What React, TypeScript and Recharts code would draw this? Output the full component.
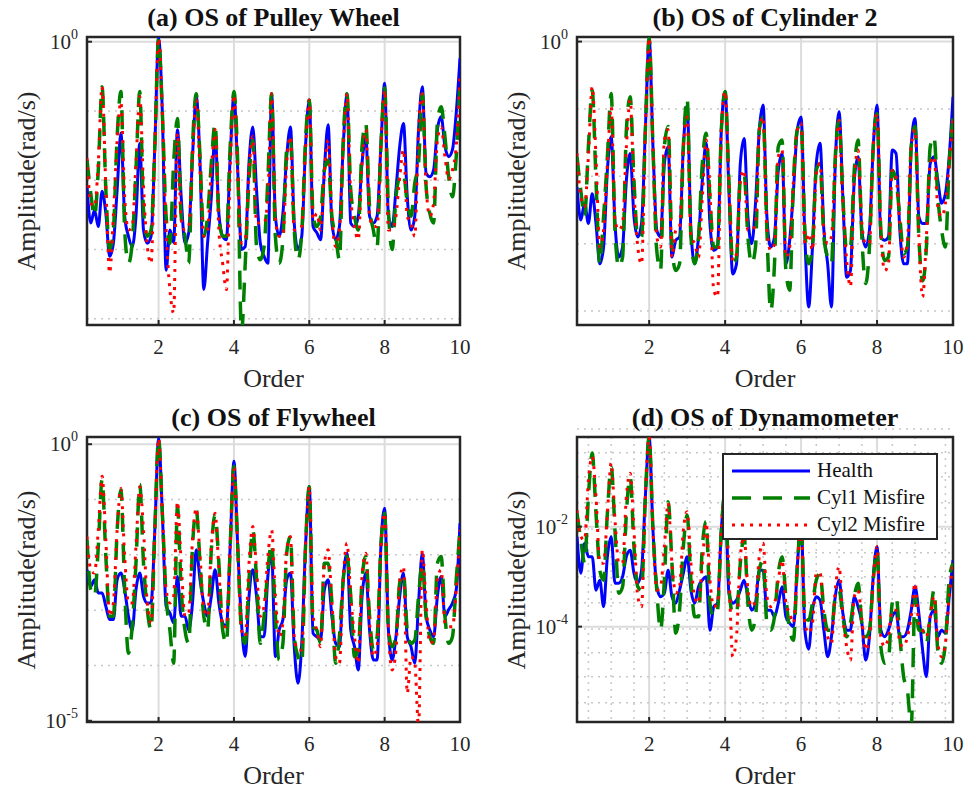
import { LineChart, Line, XAxis, YAxis, CartesianGrid, ReferenceArea, Legend } from "recharts"

// order axis, sampled every 0.1
const orders = [
  0.1, 0.2, 0.3, 0.4, 0.5, 0.6, 0.7, 0.8, 0.9, 1.0,
  1.1, 1.2, 1.3, 1.4, 1.5, 1.6, 1.7, 1.8, 1.9, 2.0,
  2.1, 2.2, 2.3, 2.4, 2.5, 2.6, 2.7, 2.8, 2.9, 3.0,
  3.1, 3.2, 3.3, 3.4, 3.5, 3.6, 3.7, 3.8, 3.9, 4.0,
  4.1, 4.2, 4.3, 4.4, 4.5, 4.6, 4.7, 4.8, 4.9, 5.0,
  5.1, 5.2, 5.3, 5.4, 5.5, 5.6, 5.7, 5.8, 5.9, 6.0,
  6.1, 6.2, 6.3, 6.4, 6.5, 6.6, 6.7, 6.8, 6.9, 7.0,
  7.1, 7.2, 7.3, 7.4, 7.5, 7.6, 7.7, 7.8, 7.9, 8.0,
  8.1, 8.2, 8.3, 8.4, 8.5, 8.6, 8.7, 8.8, 8.9, 9.0,
  9.1, 9.2, 9.3, 9.4, 9.5, 9.6, 9.7, 9.8, 9.9, 10.0,
]

const xTicks = [2, 4, 6, 8, 10]

// amplitudes, stored as log10(rad/s)
// (a) pulley wheel
const pulleyHealth = [
  -2.09, -2.62, -2.43, -2.67, -2.16, -2.48, -3.1, -2.91, -2.14, -1.32,
  -2.52, -2.81, -2.96, -2.52, -1.47, -2.72, -2.91, -2.81, -1.51, 0.05,
  -1.03, -3.3, -2.72, -2.9, -1.27, -2.24, -2.91, -2.76, -1.66, -0.79,
  -1.75, -3.58, -2.91, -2.24, -1.32, -2.48, -2.81, -2.86, -1.66, -0.77,
  -1.85, -3.0, -2.96, -1.75, -1.23, -2.14, -2.91, -3.1, -3.2, -0.75,
  -2.52, -2.81, -2.48, -1.66, -1.23, -2.62, -3.0, -2.81, -1.51, -0.84,
  -2.67, -2.76, -2.86, -1.85, -1.2, -2.62, -2.86, -2.67, -1.51, -0.75,
  -2.62, -2.67, -2.52, -1.75, -1.37, -2.52, -2.62, -2.52, -1.51, -0.6,
  -2.52, -2.67, -2.14, -1.51, -1.18, -2.24, -2.72, -2.52, -1.27, -0.65,
  -1.9, -1.95, -1.85, -1.27, -1.08, -1.51, -1.66, -1.56, -1.03, -0.24,
]
const pulleyCyl1 = [
  -1.71, -2.19, -2.52, -1.85, -0.65, -2.14, -3.0, -2.72, -1.37, -0.72,
  -2.72, -3.2, -2.91, -1.85, -0.72, -2.43, -2.81, -2.72, -1.51, 0.05,
  -1.03, -2.52, -2.91, -1.75, -1.11, -2.52, -2.81, -3.2, -1.51, -0.75,
  -1.66, -2.81, -2.52, -1.75, -1.18, -2.52, -2.81, -2.81, -1.51, -0.72,
  -1.75, -4.2, -3.2, -1.99, -1.42, -2.96, -3.15, -2.96, -1.99, -0.75,
  -2.81, -3.2, -2.86, -1.56, -1.42, -2.72, -3.15, -2.76, -1.42, -0.84,
  -2.52, -2.67, -2.52, -1.85, -1.71, -2.52, -2.81, -3.15, -1.42, -0.75,
  -2.14, -2.52, -2.72, -1.51, -1.18, -2.38, -2.72, -2.96, -1.51, -0.67,
  -2.43, -3.0, -2.24, -1.95, -1.9, -2.33, -2.52, -2.04, -1.75, -0.75,
  -2.09, -2.48, -2.62, -1.18, -0.94, -1.37, -1.95, -2.24, -1.66, -0.55,
]
const pulleyCyl2 = [
  -1.68, -2.33, -2.38, -1.75, -0.65, -2.09, -3.34, -2.52, -1.42, -0.87,
  -2.24, -2.72, -2.67, -1.75, -0.79, -2.09, -2.96, -3.2, -1.51, 0.05,
  -1.03, -2.72, -3.58, -3.92, -1.32, -2.57, -2.72, -2.67, -1.66, -0.84,
  -1.85, -2.81, -2.72, -1.85, -1.27, -2.72, -3.2, -3.58, -1.85, -0.77,
  -1.9, -2.91, -2.86, -1.85, -1.37, -2.62, -2.62, -2.62, -2.24, -0.75,
  -2.57, -2.81, -2.81, -1.75, -1.37, -2.72, -2.72, -2.67, -1.56, -0.84,
  -2.57, -2.48, -2.72, -1.9, -1.42, -2.52, -2.96, -2.72, -1.56, -0.75,
  -2.24, -2.67, -2.86, -1.75, -1.27, -2.52, -2.67, -2.67, -1.51, -0.7,
  -2.72, -2.72, -2.52, -1.95, -1.56, -2.52, -2.62, -2.81, -1.27, -0.75,
  -2.09, -2.52, -2.33, -1.42, -1.23, -1.66, -1.99, -1.85, -1.51, -0.46,
]

// (b) cylinder 2
const cylinderHealth = [
  -2.16, -2.65, -2.4, -2.7, -2.26, -2.7, -3.3, -3.05, -1.91, -1.41,
  -2.7, -3.2, -3.05, -2.06, -1.66, -2.6, -2.9, -2.7, -1.31, 0.05,
  -1.56, -2.8, -2.9, -1.81, -1.56, -3.2, -2.95, -2.9, -1.56, -0.94,
  -2.8, -3.3, -2.9, -2.06, -1.51, -2.7, -3.1, -3.05, -1.31, -0.74,
  -2.21, -3.45, -3.3, -1.81, -1.44, -2.6, -3.0, -2.4, -1.31, -0.94,
  -2.6, -3.05, -2.9, -1.91, -1.66, -3.3, -2.95, -2.21, -1.31, -1.12,
  -2.9, -3.94, -3.05, -1.81, -1.51, -2.8, -3.3, -3.94, -1.81, -1.04,
  -2.31, -3.5, -3.4, -2.06, -1.71, -2.8, -3.05, -2.8, -1.56, -0.94,
  -2.9, -2.95, -2.9, -1.61, -1.66, -2.8, -3.3, -3.3, -1.56, -1.14,
  -2.6, -2.7, -2.7, -1.81, -1.71, -2.06, -2.4, -2.26, -1.71, -0.82,
]
const cylinderCyl1 = [
  -1.71, -2.21, -2.6, -1.56, -0.72, -2.06, -3.3, -2.6, -1.71, -0.77,
  -2.8, -3.35, -3.2, -1.31, -0.82, -2.06, -2.9, -2.9, -1.31, 0.05,
  -1.56, -3.1, -3.4, -1.56, -1.26, -3.05, -3.4, -3.3, -1.56, -0.84,
  -2.9, -3.3, -2.9, -1.81, -1.36, -2.31, -3.05, -3.05, -1.31, -0.74,
  -2.06, -3.3, -3.2, -2.06, -1.96, -2.9, -3.3, -3.05, -1.31, -1.12,
  -2.8, -4.0, -3.3, -1.56, -1.46, -3.4, -3.69, -2.06, -1.31, -1.21,
  -2.8, -3.3, -3.05, -1.91, -1.81, -2.9, -3.2, -3.3, -1.71, -1.17,
  -2.31, -3.1, -3.05, -1.91, -1.46, -2.9, -3.59, -3.05, -1.56, -1.07,
  -2.8, -3.25, -3.2, -1.91, -2.06, -2.6, -3.15, -3.05, -1.56, -1.26,
  -2.9, -3.55, -3.05, -1.56, -1.41, -2.31, -2.8, -3.05, -1.81, -1.12,
]
const cylinderCyl2 = [
  -1.66, -2.31, -2.45, -1.71, -0.67, -1.71, -3.05, -2.8, -1.81, -0.97,
  -2.65, -2.8, -2.7, -1.56, -0.87, -2.21, -3.05, -3.3, -1.31, 0.05,
  -1.56, -2.9, -3.05, -1.46, -1.31, -3.2, -2.8, -2.75, -1.56, -1.12,
  -2.9, -3.0, -3.2, -2.31, -1.46, -2.21, -3.69, -3.79, -1.31, -0.74,
  -2.11, -3.25, -3.15, -2.06, -1.91, -2.8, -2.8, -2.7, -1.31, -1.12,
  -2.8, -3.1, -3.0, -1.71, -1.61, -3.2, -3.05, -2.06, -1.31, -1.21,
  -3.0, -2.85, -3.1, -1.96, -1.81, -2.8, -3.0, -2.9, -1.81, -1.17,
  -2.4, -3.25, -3.64, -2.06, -1.61, -2.7, -3.0, -3.0, -1.56, -1.07,
  -2.8, -3.4, -3.3, -1.91, -2.01, -2.7, -3.2, -3.0, -1.56, -1.31,
  -2.9, -3.79, -2.9, -1.81, -1.71, -2.45, -2.6, -2.4, -1.81, -1.12,
]

// (c) flywheel
const flywheelHealth = [
  -2.27, -2.57, -2.45, -2.69, -2.69, -2.93, -3.17, -3.17, -2.45, -2.33,
  -2.63, -3.11, -3.36, -2.63, -2.33, -2.75, -2.87, -2.87, -1.55, 0.1,
  -1.25, -2.93, -3.05, -3.23, -2.39, -3.11, -3.11, -3.36, -2.87, -1.91,
  -2.45, -2.87, -3.11, -2.75, -2.27, -2.87, -3.23, -3.3, -1.85, -0.31,
  -1.85, -3.23, -3.84, -2.75, -2.27, -2.75, -3.48, -3.48, -2.39, -1.97,
  -3.84, -3.36, -3.17, -2.45, -2.33, -3.66, -4.32, -3.6, -1.85, -0.77,
  -3.42, -3.48, -3.54, -2.63, -2.45, -3.11, -3.6, -3.66, -2.45, -1.97,
  -3.36, -3.66, -4.08, -2.75, -2.33, -3.36, -3.9, -3.9, -1.85, -1.16,
  -3.36, -3.9, -3.48, -2.75, -2.33, -3.48, -3.66, -3.96, -2.87, -1.97,
  -3.11, -3.36, -3.48, -2.75, -2.39, -3.11, -2.99, -2.87, -2.63, -1.43,
]
const flywheelCyl1 = [
  -1.73, -2.63, -2.75, -1.85, -0.64, -2.03, -3.11, -3.11, -1.55, -0.83,
  -2.63, -3.78, -3.3, -2.15, -0.73, -2.15, -2.99, -3.36, -1.55, 0.1,
  -1.25, -2.75, -3.36, -3.96, -1.13, -2.63, -3.36, -3.6, -1.85, -1.19,
  -2.15, -3.11, -3.36, -1.91, -1.28, -2.15, -3.36, -3.6, -1.85, -0.4,
  -1.85, -3.36, -3.6, -2.45, -1.55, -2.45, -3.6, -3.11, -2.27, -1.79,
  -3.11, -3.9, -3.6, -1.97, -1.67, -3.48, -3.84, -3.96, -1.85, -0.77,
  -3.3, -3.36, -3.6, -2.15, -2.15, -2.87, -3.96, -3.48, -2.45, -2.03,
  -2.75, -3.84, -3.72, -2.45, -2.03, -3.11, -3.72, -3.48, -1.85, -1.25,
  -3.36, -3.66, -3.48, -2.51, -2.33, -3.36, -3.6, -3.54, -2.75, -2.15,
  -3.11, -3.48, -3.6, -2.15, -2.03, -3.11, -3.6, -3.48, -2.45, -1.55,
]
const flywheelCyl2 = [
  -1.67, -2.27, -2.33, -1.55, -0.58, -1.73, -3.11, -2.87, -1.55, -0.8,
  -2.03, -2.87, -2.87, -1.85, -0.77, -1.55, -2.87, -3.23, -1.55, 0.1,
  -1.25, -2.63, -2.87, -2.75, -1.04, -2.15, -3.11, -3.05, -1.73, -1.16,
  -2.03, -2.99, -3.11, -1.85, -1.25, -2.27, -3.3, -3.3, -1.85, -0.43,
  -1.85, -3.36, -3.48, -2.15, -1.49, -2.27, -3.11, -2.93, -2.03, -1.55,
  -2.75, -3.48, -3.23, -1.91, -1.67, -3.48, -3.72, -3.72, -1.85, -0.77,
  -3.11, -3.36, -3.66, -2.15, -1.91, -2.87, -3.84, -3.96, -2.45, -1.79,
  -2.75, -3.48, -3.96, -2.39, -1.97, -3.23, -3.84, -3.66, -1.85, -1.25,
  -3.36, -4.08, -3.72, -2.45, -2.21, -4.5, -3.84, -3.96, -5.1, -1.91,
  -2.87, -3.6, -3.54, -2.45, -2.27, -3.23, -3.3, -3.3, -2.63, -1.55,
]

// (d) dynamometer
const dynoHealth = [
  -2.2, -2.93, -2.33, -2.6, -2.6, -3.27, -3.07, -3.6, -2.6, -2.2,
  -3.13, -3.13, -3.0, -2.6, -2.47, -2.93, -3.13, -2.87, -1.4, -0.2,
  -2.07, -3.2, -3.4, -3.33, -2.87, -3.4, -3.53, -3.27, -2.93, -2.6,
  -3.27, -3.53, -3.2, -3.07, -3.0, -4.07, -3.6, -3.53, -2.07, -1.3,
  -3.33, -3.53, -3.47, -3.27, -3.07, -3.4, -3.67, -3.53, -2.87, -2.87,
  -3.67, -3.67, -3.8, -3.53, -3.2, -3.8, -3.93, -4.0, -2.8, -1.9,
  -4.07, -4.45, -3.67, -3.4, -3.47, -4.07, -4.6, -4.2, -3.4, -3.07,
  -3.73, -4.07, -4.07, -3.4, -3.6, -3.93, -4.67, -4.2, -3.0, -2.4,
  -4.07, -4.2, -4.07, -3.8, -3.7, -4.2, -4.2, -4.07, -3.67, -3.2,
  -3.73, -4.47, -5.0, -3.8, -3.67, -4.2, -4.07, -4.13, -3.4, -2.67,
]
const dynoCyl1 = [
  -1.73, -2.27, -2.73, -1.4, -0.53, -1.73, -2.87, -3.07, -1.73, -0.8,
  -2.07, -3.33, -3.2, -1.73, -1.0, -2.4, -3.2, -3.27, -1.4, -0.2,
  -2.07, -3.27, -4.07, -3.07, -1.5, -2.73, -4.13, -3.67, -2.4, -1.77,
  -3.07, -3.8, -3.8, -2.4, -1.9, -3.53, -3.8, -3.67, -2.07, -1.3,
  -3.2, -3.73, -3.73, -2.73, -2.2, -3.53, -4.07, -3.8, -2.87, -2.67,
  -3.93, -4.07, -3.8, -2.93, -2.6, -3.4, -4.07, -4.27, -2.8, -1.95,
  -3.8, -3.87, -3.53, -3.07, -2.93, -3.67, -4.07, -4.07, -3.4, -3.27,
  -3.8, -4.2, -3.93, -3.4, -3.13, -3.93, -4.2, -4.07, -3.07, -2.47,
  -4.4, -4.73, -4.67, -3.53, -3.4, -4.2, -5.0, -5.27, -6.0, -3.4,
  -4.07, -4.07, -4.33, -3.8, -3.27, -4.47, -4.73, -4.33, -3.07, -2.73,
]
const dynoCyl2 = [
  -1.67, -2.2, -2.27, -1.07, -0.6, -1.4, -2.73, -2.73, -1.73, -0.73,
  -1.87, -2.73, -2.73, -1.4, -0.93, -2.07, -3.4, -3.6, -1.4, -0.2,
  -2.07, -3.27, -3.2, -2.4, -1.53, -2.73, -3.33, -3.2, -2.07, -1.7,
  -2.73, -3.4, -3.53, -2.73, -1.93, -3.07, -3.6, -3.53, -2.07, -1.3,
  -2.93, -4.6, -4.2, -2.6, -2.2, -3.27, -3.6, -3.47, -2.6, -2.33,
  -3.4, -3.6, -3.53, -3.07, -2.67, -3.53, -3.73, -3.93, -2.8, -1.9,
  -3.93, -4.13, -3.93, -2.93, -2.93, -3.8, -4.2, -4.33, -3.27, -2.8,
  -3.8, -4.4, -4.67, -3.4, -3.27, -3.87, -4.47, -4.2, -3.07, -2.4,
  -4.2, -4.4, -4.2, -3.67, -3.67, -4.33, -4.4, -4.2, -3.8, -3.13,
  -3.93, -4.07, -4.2, -3.8, -3.4, -4.33, -4.6, -4.33, -3.4, -2.73,
]

const FONT = '"Liberation Serif", "Times New Roman", serif'
const INK = "#262626"

const SERIES = [
  { key: "health", name: "Health", color: "#0000ff", width: 3, dash: undefined },
  { key: "cyl1", name: "Cyl1 Misfire", color: "#008000", width: 3.5, dash: "19 12" },
  { key: "cyl2", name: "Cyl2 Misfire", color: "#ff0000", width: 3, dash: "3 6" },
]

// minor grid helpers for the dynamometer panel
const decadeMinors = (lo: number, hi: number) => {
  const out: number[] = []
  for (let k = lo; k <= hi; k++) {
    for (let m = 1; m <= 9; m++) {
      if (m === 1 && k % 2 === 0) continue
      out.push(m * Math.pow(10, k))
    }
  }
  return out
}
const dynoMinorX = [
  0.2, 0.4, 0.6, 0.8, 1.0, 1.2, 1.4, 1.6, 1.8, 2.2, 2.4, 2.6, 2.8, 3.0, 3.2, 3.4, 3.6, 3.8,
  4.2, 4.4, 4.6, 4.8, 5.0, 5.2, 5.4, 5.6, 5.8, 6.2, 6.4, 6.6, 6.8, 7.0, 7.2, 7.4, 7.6, 7.8,
  8.2, 8.4, 8.6, 8.8, 9.0, 9.2, 9.4, 9.6, 9.8,
]

const panels = [
  {
    title: "(a) OS of Pulley Wheel", left: 0, top: 0, width: 480, height: 400,
    margin: { top: 37, right: 20, bottom: 45, left: 0 },
    yDomain: [8.1e-5, 1.17], yTicks: [1], majorY: [1], minorY: [0.1, 0.01, 0.001, 0.0001], minorX: [] as number[],
    health: pulleyHealth, cyl1: pulleyCyl1, cyl2: pulleyCyl2,
  },
  {
    title: "(b) OS of Cylinder 2", left: 490, top: 0, width: 477, height: 400,
    margin: { top: 37, right: 14, bottom: 45, left: 0 },
    yDomain: [6.2e-5, 1.17], yTicks: [1], majorY: [1], minorY: [0.1, 0.01, 0.001, 0.0001], minorX: [] as number[],
    health: cylinderHealth, cyl1: cylinderCyl1, cyl2: cylinderCyl2,
  },
  {
    title: "(c) OS of Flywheel", left: 0, top: 400, width: 480, height: 392,
    margin: { top: 37, right: 20, bottom: 40, left: 0 },
    yDomain: [9.5e-6, 1.35], yTicks: [1, 0.00001], majorY: [1], minorY: [0.1, 0.01, 0.001, 0.0001], minorX: [] as number[],
    health: flywheelHealth, cyl1: flywheelCyl1, cyl2: flywheelCyl2,
  },
  {
    title: "(d) OS of Dynamometer", left: 490, top: 400, width: 477, height: 392,
    margin: { top: 37, right: 14, bottom: 40, left: 0 },
    yDomain: [1.24e-6, 0.62], yTicks: [0.01, 0.0001], majorY: [0.01, 0.0001], minorY: decadeMinors(-6, -1), minorX: dynoMinorX,
    health: dynoHealth, cyl1: dynoCyl1, cyl2: dynoCyl2,
  },
]

function PowerTick(props: any) {
  const { x, y, payload } = props
  const exp = Math.round(Math.log10(payload.value))
  return (
    <text x={x} y={y} dy={7} textAnchor="end" fill={INK} fontFamily={FONT} fontSize={21}>
      10
      <tspan dy={-10} fontSize={14}>{exp}</tspan>
    </text>
  )
}

function LegendBox() {
  return (
    <div
      style={{
        width: 216, height: 87, border: `2px solid ${INK}`, background: "#fff", boxSizing: "border-box",
        fontFamily: FONT, fontSize: 21, color: "#111", paddingTop: 2,
      }}
    >
      {SERIES.map((s) => (
        <div key={s.key} style={{ display: "flex", alignItems: "center", height: 27 }}>
          <svg width={93} height={10} style={{ flex: "none" }}>
            <line x1={8} y1={5} x2={86} y2={5} stroke={s.color} strokeWidth={s.width} strokeDasharray={s.dash} />
          </svg>
          <span style={{ whiteSpace: "nowrap" }}>{s.name}</span>
        </div>
      ))}
    </div>
  )
}

function Panel({ p, showLegend }: { p: (typeof panels)[number]; showLegend: boolean }) {
  const data = orders.map((o, i) => ({
    order: o,
    health: Math.pow(10, p.health[i]),
    cyl1: Math.pow(10, p.cyl1[i]),
    cyl2: Math.pow(10, p.cyl2[i]),
  }))
  const plotLeft = 87
  const plotWidth = p.width - p.margin.right - plotLeft
  const plotTop = p.margin.top
  const plotBottom = p.height - p.margin.bottom - 30

  return (
    <div style={{ position: "absolute", left: p.left, top: p.top, width: p.width, height: p.height }}>
      <LineChart width={p.width} height={p.height} data={data} margin={p.margin}>
        {p.minorX.length > 0 && (
          <CartesianGrid horizontal={false} verticalValues={p.minorX} stroke="#c8c8c8" strokeWidth={1.5} strokeDasharray="2 5" />
        )}
        <CartesianGrid horizontal={false} verticalValues={[2, 4, 6, 8]} stroke="#dcdcdc" strokeWidth={2} />
        <CartesianGrid vertical={false} horizontalValues={p.minorY} stroke="#c8c8c8" strokeWidth={1.5} strokeDasharray="2 5" />
        <CartesianGrid vertical={false} horizontalValues={p.majorY} stroke="#dcdcdc" strokeWidth={2} />
        <XAxis
          dataKey="order"
          type="number"
          domain={[0.1, 10]}
          ticks={xTicks}
          allowDataOverflow
          axisLine={false}
          tickSize={-5}
          tickMargin={19}
          tickLine={{ stroke: INK, strokeWidth: 2 }}
          tick={{ fontSize: 21, fill: INK, fontFamily: FONT }}
          height={30}
        />
        <YAxis
          type="number"
          scale="log"
          domain={p.yDomain}
          allowDataOverflow
          ticks={p.yTicks}
          width={87}
          axisLine={false}
          tickSize={-5}
          tickMargin={14}
          tickLine={{ stroke: INK, strokeWidth: 2 }}
          tick={<PowerTick />}
        />
        {SERIES.map((s) => (
          <Line
            key={s.key}
            dataKey={s.key}
            name={s.name}
            type="monotone"
            stroke={s.color}
            strokeWidth={s.width}
            strokeDasharray={s.dash}
            dot={false}
            activeDot={false}
            isAnimationActive={false}
          />
        ))}
        <ReferenceArea x1={0.1} x2={10} y1={p.yDomain[0]} y2={p.yDomain[1]} fill="none" fillOpacity={0} stroke={INK} strokeWidth={2.5} />
        {showLegend && (
          <Legend
            layout="vertical"
            align="center"
            verticalAlign="middle"
            content={<LegendBox />}
            wrapperStyle={{ left: 232, top: 53, width: 216 }}
          />
        )}
      </LineChart>

      <div
        style={{
          position: "absolute", left: plotLeft, width: plotWidth, top: plotTop - 34, lineHeight: "30px",
          textAlign: "center", fontFamily: FONT, fontSize: 26, fontWeight: "bold", color: "#111",
        }}
      >
        {p.title}
      </div>
      <div
        style={{
          position: "absolute", left: plotLeft, width: plotWidth, top: plotBottom + 39, lineHeight: "30px",
          textAlign: "center", fontFamily: FONT, fontSize: 26, color: INK,
        }}
      >
        Order
      </div>
      <div
        style={{
          position: "absolute", left: 27, top: (plotTop + plotBottom) / 2, whiteSpace: "nowrap",
          transform: "translate(-50%, -50%) rotate(-90deg)", fontFamily: FONT, fontSize: 26, color: INK, lineHeight: "30px",
        }}
      >
        Amplitude(rad/s)
      </div>
    </div>
  )
}

export default function App() {
  return (
    <div style={{ position: "absolute", left: 0, top: 0, width: 967, height: 792, background: "#fff", overflow: "hidden" }}>
      {panels.map((p, i) => (
        <Panel key={p.title} p={p} showLegend={i === 3} />
      ))}
    </div>
  )
}
